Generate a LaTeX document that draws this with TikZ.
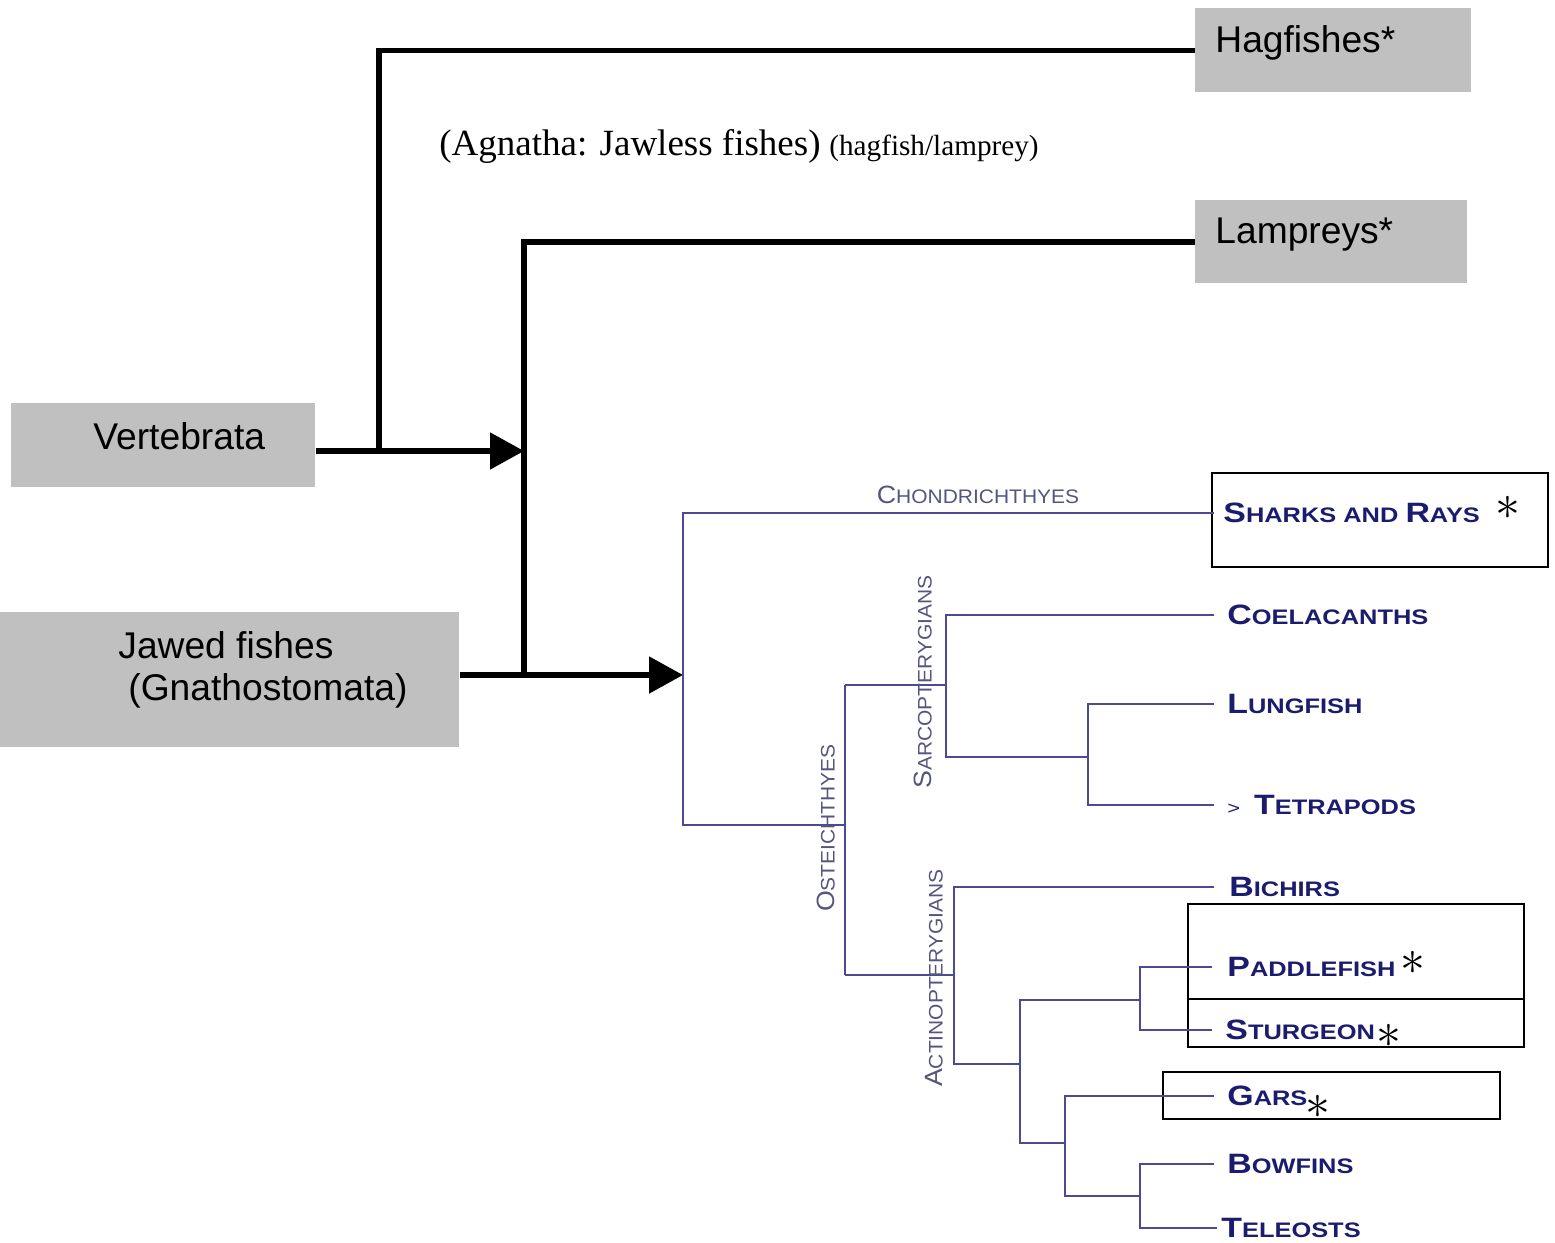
\documentclass[tikz,border=0pt]{standalone}
\usepackage{fontspec}
\setmainfont{Liberation Sans}
\newfontfamily\serifrm{Liberation Serif}
\newfontfamily\cladebf{Liberation Sans}[FakeStretch=1.21]
\newfontfamily\claderm{Liberation Sans}[FakeStretch=1.07]
\usetikzlibrary{arrows.meta}
\definecolor{boxgray}{HTML}{C0C0C0}
\definecolor{navy}{HTML}{1C1C6E}
\definecolor{treeline}{HTML}{4A4A95}
\definecolor{cladegray}{HTML}{55557F}
\newcommand\BigLeaf[1]{{\fontsize{14}{14}\selectfont #1}}
\newcommand\BigClade[1]{{\fontsize{12.5}{12.5}\selectfont #1}}
\tikzset{
  graybox/.style={fill=boxgray, draw=none, inner sep=0, anchor=north west},
  graytext/.style={font=\fontsize{18.6}{22}\selectfont, anchor=base west, inner sep=0},
  bigline/.style={line width=2.6pt, draw=black},
  bigarrow/.style={bigline, -{Triangle[length=17pt,width=18pt]}},
  tree/.style={draw=treeline, line width=0.9pt},
  leaf/.style={anchor=west, inner xsep=6.5pt, inner ysep=0, text=navy,
    font=\cladebf\bfseries\fontsize{10.5}{12}\selectfont},
  clade/.style={text=cladegray, font=\claderm\fontsize{9.8}{12}\selectfont, inner sep=0},
  frame/.style={draw=black, line width=0.8pt, anchor=north west, inner sep=0},
  starmark/.style={inner sep=0, text=black},
}
\begin{document}
\begin{tikzpicture}[x=0.5pt,y=-0.5pt]
\useasboundingbox (0,0) rectangle (1555,1243);

% gray boxes
\node[graybox, minimum width=138pt, minimum height=42pt] (hagbox) at (1195,8) {};
\node[graytext] (hagtxt) at (1215,52) {Hagfishes*};
\node[graybox, minimum width=136pt, minimum height=41.5pt] (lambox) at (1195,200) {};
\node[graytext] (lamtxt) at (1215,243) {Lampreys*};
\node[graybox, minimum width=152pt, minimum height=42pt] (vertbox) at (11,403) {};
\node[graytext] (verttxt) at (93,449) {Vertebrata};
\node[graybox, minimum width=229.5pt, minimum height=67.5pt] (jawbox) at (0,612) {};
\node[graytext] (jawtxt1) at (118,658) {Jawed fishes};
\node[graytext] (jawtxt2) at (128,700) {(Gnathostomata)};

% serif caption
\node[anchor=base west, inner sep=0, font=\serifrm\fontsize{18.5}{22}\selectfont] (agn) at (439,155) {(Agnatha: Jawless fishes)};
\node[anchor=base west, inner sep=0, font=\serifrm\fontsize{14.6}{16}\selectfont] (agn2) at (829,155) {(hagfish/lamprey)};

% junctions
\coordinate (j1) at (379,451);
\coordinate (j2) at (524,451);
\coordinate (j3) at (524,675);
\coordinate (root) at (683,675);

\draw[bigline] (hagbox.west) -| (j1);
\draw[bigline] (lambox.west) -| (j3);
\draw[bigarrow] (vertbox.east |- j1) -- (j2);
\draw[bigarrow] (jawbox.east |- j3) -- (root);

% leaf labels
\node[leaf, inner xsep=4.5pt] (sharks) at (1214,513) {\BigLeaf{S}HARKS AND \BigLeaf{R}AYS};
\node[leaf] (coel) at (1214,615) {\BigLeaf{C}OELACANTHS};
\node[leaf] (lung) at (1214,704) {\BigLeaf{L}UNGFISH};
\node[leaf] (tetra) at (1214,805) {{\mdseries\fontsize{9}{9}\selectfont >}\hspace{7pt}\BigLeaf{T}ETRAPODS};
\node[leaf, inner xsep=7.5pt] (bich) at (1214,887) {\BigLeaf{B}ICHIRS};
\node[leaf, inner xsep=7.5pt] (padd) at (1212,967) {\BigLeaf{P}ADDLEFISH};
\node[leaf, inner xsep=6.5pt] (stur) at (1212,1030) {\BigLeaf{S}TURGEON};
\node[leaf] (gars) at (1214,1096) {\BigLeaf{G}ARS};
\node[leaf] (bow) at (1214,1164) {\BigLeaf{B}OWFINS};
\node[leaf, inner xsep=2pt] (tele) at (1217,1228) {\BigLeaf{T}ELEOSTS};

% frames
\node[frame, minimum width=168pt, minimum height=47pt] (fsharks) at (1211,472) {};
\node[frame, minimum width=168pt, minimum height=47.5pt] (fpadd) at (1187,903) {};
\node[frame, minimum width=168pt, minimum height=24pt] (fstur) at (1187,998) {};
\node[frame, minimum width=168.5pt, minimum height=23.5pt] (fgars) at (1162,1071) {};

% stars
\node[starmark, font=\fontsize{24}{24}\selectfont] (s1) at (1508,508) {$\ast$};
\node[starmark, font=\fontsize{29}{29}\selectfont] (s2) at (1413,963) {$\ast$};
\node[starmark, font=\fontsize{29}{29}\selectfont] (s3) at (1389,1036) {$\ast$};
\node[starmark, font=\fontsize{29}{29}\selectfont] (s4) at (1318,1107) {$\ast$};

% tree
\coordinate (oste) at (845,825);
\coordinate (sarc) at (946,685);
\coordinate (acti) at (954,975);
\draw[tree] (sharks.west) -| (683,825) -- (oste);
\draw[tree] (sarc -| oste) -- (acti -| oste);
\draw[tree] (sarc -| oste) -- (sarc);
\draw[tree] (coel.west) -| (946,757) -- (1088,757);
\draw[tree] (lung.west) -| (1088,805) -- (tetra.west);
\draw[tree] (acti -| oste) -- (acti);
\draw[tree] (bich.west) -| (954,1064) -- (1020,1064);
\draw[tree] (1140,1000) -- (1020,1000) -- (1020,1143) -- (1065,1143);
\draw[tree] (padd.west) -| (1140,1030) -- (stur.west);
\draw[tree] (gars.west) -| (1065,1196) -- (1140,1196);
\draw[tree] (bow.west) -| (1140,1228) -- (tele.west);

% clade labels
\node[clade] (chond) at (978,495) {\BigClade{C}HONDRICHTHYES};
\node[clade, rotate=90] (ostl) at (826,828) {\BigClade{O}STEICHTHYES};
\node[clade, rotate=90] (sarl) at (923,682) {\BigClade{S}ARCOPTERYGIANS};
\node[clade, rotate=90] (actl) at (934,978) {\BigClade{A}CTINOPTERYGIANS};
\end{tikzpicture}
\end{document}
